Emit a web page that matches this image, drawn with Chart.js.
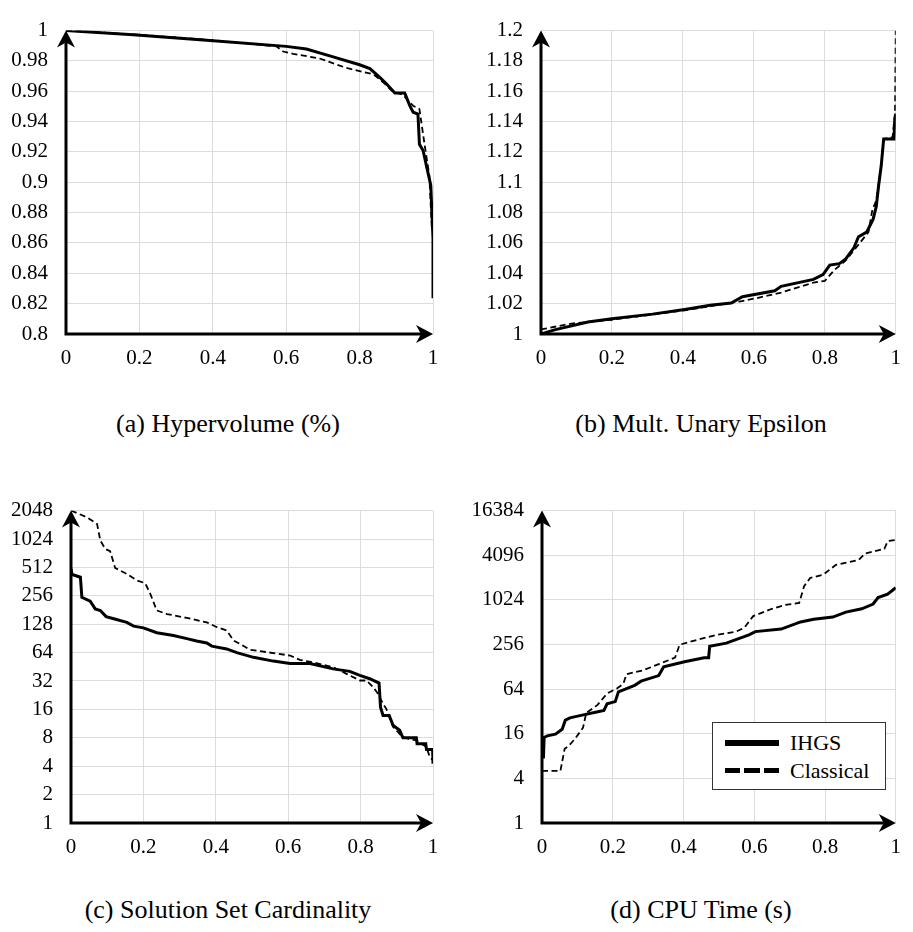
<!DOCTYPE html>
<html>
<head>
<meta charset="utf-8">
<script src="https://cdn.jsdelivr.net/npm/chart.js@4.4.0/dist/chart.umd.min.js"></script>
<style>
  body { margin: 0; background: #fff; font-family: 'Liberation Serif', serif; }
  #page { position: relative; width: 913px; height: 932px; overflow: hidden; }
  canvas { position: absolute; }
  .caption { position: absolute; width: 456px; text-align: center; font-size: 26px; line-height: 30px; color: #000; }
  #legend { position: absolute; left: 712px; top: 722px; width: 172px; height: 66px; border: 1px solid #333; background: #fff; }
  .row { position: absolute; left: 12px; height: 28px; font-size: 22px; line-height: 28px; }
  .swatch { position: absolute; left: 0; width: 54px; }
  .row span { position: absolute; left: 65px; white-space: nowrap; }
</style>
</head>
<body>
<div id="page">
  <canvas id="hv" width="456" height="380" style="left:0;top:0"></canvas>
  <canvas id="eps" width="457" height="380" style="left:456px;top:0"></canvas>
  <canvas id="card" width="456" height="400" style="left:0;top:480px"></canvas>
  <canvas id="cpu" width="457" height="400" style="left:456px;top:480px"></canvas>

  <div class="caption" style="left:0;top:409px">(a) Hypervolume (%)</div>
  <div class="caption" style="left:473px;top:409px">(b) Mult. Unary Epsilon</div>
  <div class="caption" style="left:0;top:895px">(c) Solution Set Cardinality</div>
  <div class="caption" style="left:473px;top:895px">(d) CPU Time (s)</div>

  <div id="legend">
    <div class="row" style="top:6px">
      <div class="swatch" style="top:11px;height:6px;background:#000"></div>
      <span>IHGS</span>
    </div>
    <div class="row" style="top:34px">
      <div class="swatch" style="top:11px;height:5px;background:repeating-linear-gradient(to right,#000 0 15px,transparent 15px 19.5px)"></div>
      <span>Classical</span>
    </div>
  </div>
</div>

<script>
// eje x comun a las cuatro graficas
const xTicks = [0, 0.2, 0.4, 0.6, 0.8, 1];

// (a) hipervolumen
const hvTicks = [0.8, 0.82, 0.84, 0.86, 0.88, 0.9, 0.92, 0.94, 0.96, 0.98, 1];
const hvIhgsX = [0, 0.183, 0.383, 0.6, 0.655, 0.728, 0.8, 0.828, 0.855, 0.873, 0.896, 0.923, 0.937, 0.946, 0.959, 0.963, 0.973, 0.982, 0.994, 0.997, 1, 1];
const hvIhgsY = [1, 0.9973, 0.9937, 0.9896, 0.9879, 0.9827, 0.9775, 0.975, 0.9692, 0.965, 0.9588, 0.9588, 0.9504, 0.9462, 0.945, 0.925, 0.921, 0.911, 0.898, 0.88, 0.863, 0.8235];
const hvClassX = [0, 0.183, 0.383, 0.573, 0.592, 0.619, 0.691, 0.764, 0.8, 0.837, 0.864, 0.891, 0.918, 0.946, 0.963, 0.977, 0.99, 0.997];
const hvClassY = [1, 0.9975, 0.994, 0.9896, 0.9862, 0.9847, 0.9816, 0.9754, 0.9733, 0.9712, 0.966, 0.9597, 0.9577, 0.9504, 0.9483, 0.925, 0.9046, 0.869];

// (b) epsilon multiplicativo
const epsTicks = [1, 1.02, 1.04, 1.06, 1.08, 1.1, 1.12, 1.14, 1.16, 1.18, 1.2];
const epsIhgsX = [0, 0.038, 0.132, 0.2, 0.314, 0.405, 0.477, 0.536, 0.568, 0.659, 0.677, 0.768, 0.795, 0.814, 0.841, 0.859, 0.882, 0.895, 0.918, 0.936, 0.945, 0.952, 0.959, 0.966, 0.995, 0.997, 1];
const epsIhgsY = [1, 1.0027, 1.0079, 1.01, 1.0131, 1.0162, 1.0189, 1.0204, 1.0246, 1.0285, 1.0314, 1.036, 1.0391, 1.0454, 1.0464, 1.0495, 1.0568, 1.0641, 1.0672, 1.0755, 1.0839, 1.0984, 1.1109, 1.1286, 1.1286, 1.1401, 1.1453];
const epsClassX = [0, 0.086, 0.2, 0.405, 0.532, 0.559, 0.605, 0.677, 0.768, 0.8, 0.827, 0.859, 0.895, 0.923, 0.934, 0.945, 0.959, 0.966, 0.991, 0.998, 1];
const epsClassY = [1.003, 1.0069, 1.0094, 1.0156, 1.0204, 1.0214, 1.0235, 1.0273, 1.0339, 1.035, 1.0422, 1.0485, 1.0589, 1.0672, 1.0818, 1.088, 1.1109, 1.1286, 1.1297, 1.146, 1.2];

// (c) cardinalidad del conjunto solucion
const cardTicks = [1, 2, 4, 8, 16, 32, 64, 128, 256, 512, 1024, 2048];
const cardIhgsX = [0, 0.003, 0.026, 0.03, 0.053, 0.067, 0.081, 0.097, 0.118, 0.154, 0.173, 0.2, 0.237, 0.283, 0.32, 0.347, 0.375, 0.389, 0.43, 0.458, 0.504, 0.559, 0.605, 0.66, 0.724, 0.77, 0.798, 0.825, 0.851, 0.855, 0.862, 0.879, 0.89, 0.908, 0.917, 0.954, 0.956, 0.98, 0.982, 0.999, 1];
const cardIhgsY = [494, 430, 403, 247, 224, 186, 179, 154, 146, 134, 122, 117, 104, 97, 90, 85, 81, 75, 70, 64, 57, 52, 49, 49, 43, 40.5, 36.7, 33.8, 30.4, 16.9, 13.8, 13.8, 10.8, 9.6, 8, 8, 6.9, 6.9, 6, 6, 4.25];
const cardClassX = [0, 0.044, 0.072, 0.081, 0.095, 0.108, 0.122, 0.154, 0.182, 0.205, 0.219, 0.237, 0.265, 0.32, 0.375, 0.403, 0.43, 0.449, 0.467, 0.494, 0.54, 0.605, 0.632, 0.678, 0.724, 0.761, 0.798, 0.816, 0.835, 0.848, 0.862, 0.871, 0.89, 0.917, 0.954, 0.982, 0.991, 1];
const cardClassY = [2048, 1740, 1480, 985, 803, 760, 505, 437, 372, 348, 269, 179, 164, 149, 134, 119, 110, 86, 79, 68.6, 64.8, 59.6, 53.7, 49.5, 44.9, 38.1, 32.4, 32.4, 27.5, 23.4, 18.4, 16.2, 10.4, 8.1, 7.5, 6.4, 5, 4.6];

// (d) tiempo de CPU
const cpuTicks = [1, 4, 16, 64, 256, 1024, 4096, 16384];
const cpuIhgsX = [0.004, 0.006, 0.015, 0.038, 0.057, 0.066, 0.079, 0.12, 0.148, 0.175, 0.184, 0.207, 0.216, 0.239, 0.262, 0.28, 0.33, 0.344, 0.403, 0.458, 0.471, 0.474, 0.521, 0.585, 0.603, 0.676, 0.731, 0.768, 0.822, 0.859, 0.904, 0.936, 0.95, 0.977, 1];
const cpuIhgsY = [7.4, 14.3, 15, 15.8, 18.4, 24.4, 26.2, 29, 31, 33, 40.5, 43.4, 58.7, 65, 72, 82, 97.5, 128, 150, 170, 170, 242, 267, 345, 382, 413, 516, 560, 600, 700, 776, 900, 1100, 1220, 1490];
const cpuClassX = [0, 0.052, 0.064, 0.075, 0.093, 0.116, 0.125, 0.157, 0.184, 0.211, 0.23, 0.239, 0.284, 0.33, 0.376, 0.389, 0.439, 0.494, 0.549, 0.572, 0.597, 0.65, 0.686, 0.727, 0.741, 0.758, 0.795, 0.831, 0.895, 0.913, 0.968, 0.977, 1];
const cpuClassY = [5.04, 5.04, 10, 10.9, 13.6, 19.3, 30.5, 39.2, 55.9, 65, 75.6, 102, 114, 139, 170, 254, 296, 345, 382, 431, 618, 776, 873, 929, 1570, 2020, 2240, 3040, 3520, 4320, 5010, 6340, 6600];

const FONT = "'Liberation Serif', serif";
const GRID = '#dcdcdc';

function pts(xs, ys) {
  return xs.map((x, i) => ({ x: x, y: ys[i] }));
}

// ejes negros con flecha, dibujados encima de todo
const arrowAxes = {
  id: 'arrowAxes',
  afterDraw(chart) {
    const { ctx, chartArea: a } = chart;
    ctx.save();
    ctx.strokeStyle = '#000';
    ctx.fillStyle = '#000';
    ctx.lineWidth = 3;
    ctx.lineCap = 'butt';
    ctx.beginPath();
    ctx.moveTo(a.left, a.bottom);
    ctx.lineTo(a.right - 8, a.bottom);
    ctx.moveTo(a.left, a.bottom + 1.5);
    ctx.lineTo(a.left, a.top + 8);
    ctx.stroke();
    // punta x
    ctx.beginPath();
    ctx.moveTo(a.right, a.bottom);
    ctx.lineTo(a.right - 17, a.bottom - 9);
    ctx.lineTo(a.right - 12, a.bottom);
    ctx.lineTo(a.right - 17, a.bottom + 9);
    ctx.closePath();
    ctx.fill();
    // punta y
    ctx.beginPath();
    ctx.moveTo(a.left, a.top);
    ctx.lineTo(a.left - 9, a.top + 17);
    ctx.lineTo(a.left, a.top + 12);
    ctx.lineTo(a.left + 9, a.top + 17);
    ctx.closePath();
    ctx.fill();
    ctx.restore();
  }
};

function makeChart(id, cfg) {
  const yScale = {
    type: cfg.log ? 'logarithmic' : 'linear',
    min: cfg.yTicks[0],
    max: cfg.yTicks[cfg.yTicks.length - 1],
    afterBuildTicks: s => { s.ticks = cfg.yTicks.map(v => ({ value: v })); },
    afterFit: s => { s.width = cfg.yWidth; },
    grid: { color: GRID, drawTicks: false },
    border: { display: false },
    ticks: {
      color: '#000',
      padding: 18,
      font: { family: FONT, size: 21 },
      callback: v => String(+Number(v).toFixed(4))
    }
  };
  new Chart(document.getElementById(id), {
    type: 'line',
    data: {
      datasets: [{
        label: 'IHGS',
        data: pts(cfg.ihgsX, cfg.ihgsY),
        borderColor: '#000',
        borderWidth: 3,
        pointRadius: 0,
        tension: 0
      }, {
        label: 'Classical',
        data: pts(cfg.classX, cfg.classY),
        borderColor: '#000',
        borderWidth: 1.8,
        borderDash: [6, 3.5],
        pointRadius: 0,
        tension: 0
      }]
    },
    options: {
      responsive: false,
      animation: false,
      layout: { padding: cfg.pad },
      plugins: { legend: { display: false }, tooltip: { enabled: false } },
      scales: {
        x: {
          type: 'linear',
          min: 0,
          max: 1,
          afterBuildTicks: s => { s.ticks = xTicks.map(v => ({ value: v })); },
          afterFit: s => { s.height = cfg.xHeight; },
          grid: { color: GRID, drawTicks: false },
          border: { display: false },
          ticks: {
            color: '#000',
            padding: 12,
            maxRotation: 0,
            font: { family: FONT, size: 21 },
            callback: v => String(+Number(v).toFixed(2))
          }
        },
        y: yScale
      }
    },
    plugins: [arrowAxes]
  });
}

makeChart('hv', {
  yTicks: hvTicks, ihgsX: hvIhgsX, ihgsY: hvIhgsY, classX: hvClassX, classY: hvClassY,
  yWidth: 66, xHeight: 46, pad: { top: 14, right: 23, left: 0, bottom: 0 }
});
makeChart('eps', {
  yTicks: epsTicks, ihgsX: epsIhgsX, ihgsY: epsIhgsY, classX: epsClassX, classY: epsClassY,
  yWidth: 85, xHeight: 46, pad: { top: 14, right: 5, left: 0, bottom: 0 }
});
makeChart('card', {
  log: true,
  yTicks: cardTicks, ihgsX: cardIhgsX, ihgsY: cardIhgsY, classX: cardClassX, classY: cardClassY,
  yWidth: 71, xHeight: 57, pad: { top: 30, right: 23, left: 0, bottom: 0 }
});
makeChart('cpu', {
  log: true,
  yTicks: cpuTicks, ihgsX: cpuIhgsX, ihgsY: cpuIhgsY, classX: cpuClassX, classY: cpuClassY,
  yWidth: 86, xHeight: 57, pad: { top: 23, right: 5, left: 0, bottom: 0 }
});
</script>
</body>
</html>
